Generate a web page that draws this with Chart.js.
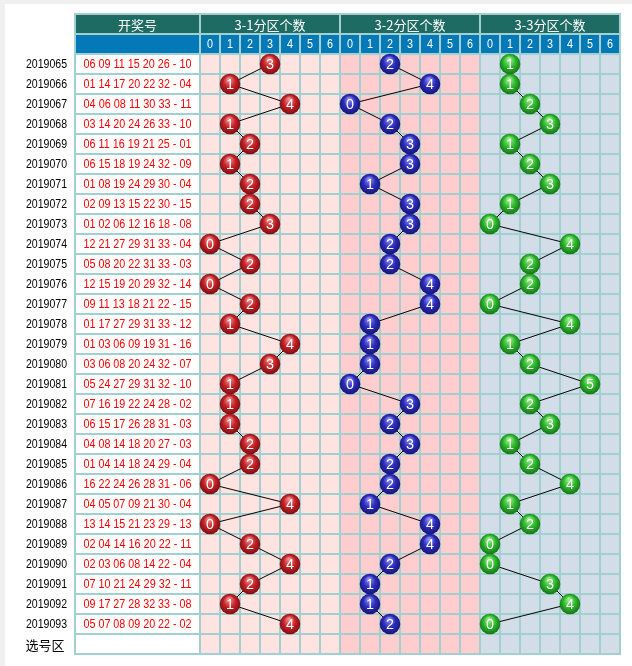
<!DOCTYPE html>
<html>
<head>
<meta charset="utf-8">
<title>3分区个数走势</title>
<script src="https://cdn.jsdelivr.net/npm/chart.js@4.4.1/dist/chart.umd.min.js"></script>
<style>
  html, body { margin: 0; padding: 0; background: #f0f0f0; }
  canvas { display: block; }
</style>
</head>
<body>
<canvas id="trendChart" width="632" height="666"></canvas>
<script>
const periods = ["2019065", "2019066", "2019067", "2019068", "2019069", "2019070", "2019071", "2019072", "2019073", "2019074",
  "2019075", "2019076", "2019077", "2019078", "2019079", "2019080", "2019081", "2019082", "2019083", "2019084",
  "2019085", "2019086", "2019087", "2019088", "2019089", "2019090", "2019091", "2019092", "2019093"]

const draws = [
  "06 09 11 15 20 26 - 10", "01 14 17 20 22 32 - 04", "04 06 08 11 30 33 - 11", "03 14 20 24 26 33 - 10",
  "06 11 16 19 21 25 - 01", "06 15 18 19 24 32 - 09", "01 08 19 24 29 30 - 04", "02 09 13 15 22 30 - 15",
  "01 02 06 12 16 18 - 08", "12 21 27 29 31 33 - 04", "05 08 20 22 31 33 - 03", "12 15 19 20 29 32 - 14",
  "09 11 13 18 21 22 - 15", "01 17 27 29 31 33 - 12", "01 03 06 09 19 31 - 16", "03 06 08 20 24 32 - 07",
  "05 24 27 29 31 32 - 10", "07 16 19 22 24 28 - 02", "06 15 17 26 28 31 - 03", "04 08 14 18 20 27 - 03",
  "01 04 14 18 24 29 - 04", "16 22 24 26 28 31 - 06", "04 05 07 09 21 30 - 04", "13 14 15 21 23 29 - 13",
  "02 04 14 16 20 22 - 11", "02 03 06 08 14 22 - 04", "07 10 21 24 29 32 - 11", "09 17 27 28 32 33 - 08",
  "05 07 08 09 20 22 - 02"]

// 每期各分区的个数
const zone1Counts = [3, 1, 4, 1, 2, 1, 2, 2, 3, 0, 2, 0, 2, 1, 4, 3, 1, 1, 1, 2, 2, 0, 4, 0, 2, 4, 2, 1, 4]
const zone2Counts = [2, 4, 0, 2, 3, 3, 1, 3, 3, 2, 2, 4, 4, 1, 1, 1, 0, 3, 2, 3, 2, 2, 1, 4, 4, 2, 1, 1, 2]
const zone3Counts = [1, 1, 2, 3, 1, 2, 3, 1, 0, 4, 2, 2, 0, 4, 1, 2, 5, 2, 3, 1, 2, 4, 1, 2, 0, 0, 3, 4, 0]

const sectionTitles = ["3-1分区个数", "3-2分区个数", "3-3分区个数"]
const columnLabels = ["0", "1", "2", "3", "4", "5", "6"]
const drawTitle = "开奖号"
const pickRowLabel = "选号区"

const sectionFills = ["#ffe3e1", "#ffcdcd", "#d2dde7"]
const ballColors = [
  { light: "#f08a8a", base: "#c42226", dark: "#7a0c10" }, // 红
  { light: "#8a8af0", base: "#2c2cbc", dark: "#14146e" }, // 蓝
  { light: "#9af08a", base: "#2eb82e", dark: "#137013" }, // 绿
]
const gridColor = "#a2cfcf"
const cols = columnLabels.length
const rowCount = periods.length + 1 // 加上选号区

function makeBall(c) {
  const cv = document.createElement("canvas")
  cv.width = 22
  cv.height = 22
  const g = cv.getContext("2d")
  const grad = g.createRadialGradient(10, 6, 1, 11, 11, 11)
  grad.addColorStop(0, c.light)
  grad.addColorStop(0.5, c.base)
  grad.addColorStop(1, c.dark)
  g.fillStyle = grad
  g.beginPath()
  g.arc(11, 11, 10.3, 0, Math.PI * 2)
  g.fill()
  return cv
}

const balls = ballColors.map(makeBall)

function zoneDataset(counts, section) {
  return {
    label: sectionTitles[section],
    data: counts.map((v, i) => ({ x: section * cols + v + 0.5, y: i + 0.5 })),
    showLine: true,
    borderColor: "#000",
    borderWidth: 1,
    tension: 0,
    pointStyle: balls[section],
    pointRadius: 10,
    clip: false,
  }
}

const tablePlugin = {
  id: "tablePlugin",
  beforeDraw(chart) {
    const ctx = chart.ctx
    const xs = chart.scales.x
    const ys = chart.scales.y
    const X = v => xs.getPixelForValue(v)
    const Y = v => ys.getPixelForValue(v)
    const left = xs.min
    const right = xs.max

    ctx.save()
    ctx.fillStyle = "#f0f0f0"
    ctx.fillRect(0, 0, chart.width, chart.height)
    ctx.fillStyle = "#fff"
    ctx.fillRect(5, 4, chart.width - 5, chart.height - 4)

    // 表头
    ctx.fillStyle = "#1e6b63"
    ctx.fillRect(X(left), Y(-2), X(right) - X(left), Y(-1) - Y(-2))
    ctx.fillStyle = "#0479b8"
    ctx.fillRect(X(left), Y(-1), X(right) - X(left), Y(0) - Y(-1))

    // 分区底色
    sectionFills.forEach((fill, s) => {
      ctx.fillStyle = fill
      ctx.fillRect(X(s * cols), Y(0), X((s + 1) * cols) - X(s * cols), Y(rowCount) - Y(0))
    })

    // 格线
    ctx.strokeStyle = gridColor
    ctx.lineWidth = 2
    ctx.beginPath()
    for (let r = -2; r <= rowCount; r++) {
      ctx.moveTo(X(left) - 1, Y(r))
      ctx.lineTo(X(right) + 1, Y(r))
    }
    ;[left, 0, cols, cols * 2, cols * 3].forEach(c => {
      ctx.moveTo(X(c), Y(-2) - 1)
      ctx.lineTo(X(c), Y(rowCount) + 1)
    })
    for (let c = 1; c < cols * 3; c++) {
      if (c % cols === 0) continue
      ctx.moveTo(X(c), Y(-1))
      ctx.lineTo(X(c), Y(rowCount) + 1)
    }
    ctx.stroke()

    // 文字
    ctx.textBaseline = "middle"
    ctx.textAlign = "center"
    ctx.fillStyle = "#fff"
    ctx.font = '13px "Noto Sans CJK SC", sans-serif'
    ctx.fillText(drawTitle, X(left / 2), Y(-1.5) + 1)
    sectionTitles.forEach((t, s) => ctx.fillText(t, X(s * cols + cols / 2), Y(-1.5) + 1))
    ctx.font = '12px "Liberation Sans", Arial, sans-serif'
    for (let c = 0; c < cols * 3; c++) {
      ctx.fillText(columnLabels[c % cols], X(c + 0.5), Y(-0.5) + 1, 6)
    }

    ctx.font = '12px "Liberation Sans", Arial, sans-serif'
    ctx.fillStyle = "#f00"
    draws.forEach((d, i) => ctx.fillText(d, X(left / 2), Y(i + 0.5) + 1, 108))

    ctx.fillStyle = "#000"
    ctx.textAlign = "right"
    periods.forEach((p, i) => ctx.fillText(p, X(left) - 8, Y(i + 0.5) + 1, 41))
    ctx.textAlign = "center"
    ctx.font = '13px "Noto Sans CJK SC", sans-serif'
    ctx.fillText(pickRowLabel, 45, Y(rowCount - 0.5) + 1)
    ctx.restore()
  },
  afterDatasetsDraw(chart) {
    const ctx = chart.ctx
    const countsList = [zone1Counts, zone2Counts, zone3Counts]
    ctx.save()
    ctx.fillStyle = "#fff"
    ctx.textAlign = "center"
    ctx.textBaseline = "middle"
    ctx.font = '15px "Liberation Sans", Arial, sans-serif'
    chart.data.datasets.forEach((ds, s) => {
      chart.getDatasetMeta(s).data.forEach((pt, i) => {
        ctx.fillText(String(countsList[s][i]), pt.x, pt.y + 1, 8)
      })
    })
    ctx.restore()
  },
}

const ctx = document.getElementById("trendChart")

new Chart(ctx, {
  type: "line",
  data: {
    datasets: [
      zoneDataset(zone1Counts, 0),
      zoneDataset(zone2Counts, 1),
      zoneDataset(zone3Counts, 2),
    ],
  },
  options: {
    responsive: false,
    animation: false,
    events: [],
    layout: { padding: { left: 75, right: 12, top: 14, bottom: 12 } },
    scales: {
      x: { type: "linear", min: -6.25, max: 21, display: false },
      y: { type: "linear", min: -2, max: rowCount, reverse: true, display: false },
    },
    plugins: {
      legend: { display: false },
      tooltip: { enabled: false },
    },
  },
  plugins: [tablePlugin],
})
</script>
</body>
</html>
